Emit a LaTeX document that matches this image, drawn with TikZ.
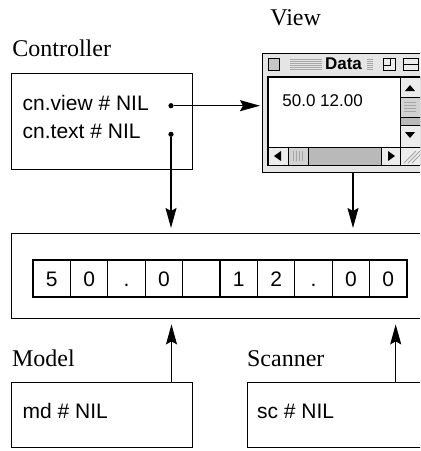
\documentclass[tikz,border=0pt]{standalone}
\usepackage{fontspec}
\setmainfont{Liberation Serif}
\setsansfont{Liberation Sans}
\usetikzlibrary{arrows.meta,positioning}

\tikzset{
  box/.style={draw, line width=.7pt, anchor=north west, inner sep=0pt},
  lbl/.style={anchor=base west, inner sep=0pt, font=\fontsize{12}{14}\selectfont},
  fld/.style={anchor=base west, inner sep=0pt, font=\sffamily\fontsize{10.5}{12}\selectfont},
  dot/.style={circle, fill, inner sep=0pt, minimum size=2.6pt},
  arr/.style={line width=.6pt, -{Stealth[length=10pt,width=5.5pt,inset=1.5pt]}, shorten >=2.5pt},
  btn/.style={draw, line width=.5pt, fill=gray!15},
  ridge/.style={gray!70, line width=.4pt},
}

\begin{document}
\begin{tikzpicture}[x=.5pt, y=-.5pt]
\clip (0,0) rectangle (420,451);
\node[lbl] (tctrl) at (12,56.7) {Controller};
\node[lbl] (tview) at (270,25) {View};
\node[lbl] (tmodel) at (11.7,366.7) {Model};
\node[lbl] (tscan) at (246.7,366.7) {Scanner};

\node[box, minimum width=90.5pt, minimum height=48pt] (ctrl) at (11,73) {};
\node[fld] (fview) at (22.3,110) {cn.view \# NIL};
\node[fld] (ftext) at (22.3,138.3) {cn.text \# NIL};
\node[dot] (dview) at (171,105.7) {};
\node[dot] (dtext) at (171,134.3) {};

\node[box, minimum width=90.5pt, minimum height=32.5pt] (model) at (11,382) {};
\node[fld] (fmodel) at (22.3,418.3) {md \# NIL};
\node[box, minimum width=91.5pt, minimum height=32.5pt] (scan) at (247,382) {};
\node[fld] (fscan) at (256.7,418.3) {sc \# NIL};

\node[box, minimum width=207pt, minimum height=42.5pt] (data) at (11,233) {};
\matrix[anchor=west, inner sep=0pt, column sep=-.6pt, nodes={draw, line width=.6pt,
    minimum width=18.7pt, minimum height=18.5pt, inner sep=0pt, text height=7.5pt, text depth=0pt,
    font=\sffamily\fontsize{10.5}{12}\selectfont}] (cells) at (32,278.5) {
  \node (c1) {5}; & \node (c2) {0}; & \node (c3) {.}; & \node (c4) {0}; & \node (c5) {}; &
  \node (c6) {1}; & \node (c7) {2}; & \node (c8) {.}; & \node (c9) {0}; & \node (c10) {0}; \\
};

\node[box, line width=.6pt, fill=gray!20, minimum width=81.5pt, minimum height=59.5pt] (view) at (262,53) {};
\draw[line width=.6pt, fill=white] (268,77) rectangle (421,165);
\draw[btn, fill=gray!45] (268,58) rectangle (279,70);
\foreach \y in {59,61,...,69} \draw[ridge] (290,\y) -- (322,\y) (367,\y) -- (373,\y);
\node[inner sep=0pt, font=\sffamily\bfseries\fontsize{8.5}{10}\selectfont] (ttl) at (343.5,64) {Data};
\draw[btn] (383,58) rectangle (395,70);
\draw[line width=.4pt] (383,58) rectangle (390,65);
\draw[btn] (403,58) rectangle (418,70);
\draw[line width=.4pt] (403,64) -- (418,64);
\node[anchor=base west, inner sep=0pt, font=\sffamily\fontsize{8.5}{10}\selectfont] (vtxt) at (282,106.7) {50.0 12.00};

\draw[btn] (400,77) rectangle (421,97);
\fill (405,91) -- (415,91) -- (410,85) -- cycle;
\draw[btn, fill=gray!35] (400,97) rectangle (421,117);
\foreach \y in {102,105,...,111} \draw[ridge] (404,\y) -- (416,\y);
\draw[line width=.5pt, fill=gray!55] (400,117) rectangle (421,125);
\draw[btn] (400,125) rectangle (421,147);
\fill (405,132) -- (415,132) -- (410,138) -- cycle;

\draw[btn] (268,147) rectangle (288,165);
\fill (274,156) -- (281,151) -- (281,161) -- cycle;
\draw[btn, fill=gray!35] (288,147) rectangle (308,165);
\foreach \x in {293,296,...,302} \draw[ridge] (\x,151) -- (\x,161);
\draw[line width=.5pt, fill=gray!55] (308,147) rectangle (381,165);
\draw[btn] (381,147) rectangle (400,165);
\fill (388,151) -- (395,156) -- (388,161) -- cycle;
\draw[btn] (400,147) rectangle (421,165);
\foreach \d in {0,4,8} \draw[ridge] (404+\d,163) -- (416+\d,151);

\coordinate (vtap) at (353,172);
\coordinate (mtap) at (171.5,382);
\coordinate (stap) at (395.7,382);
\draw[arr, shorten >=1pt] (dview) -- (dview -| view.west);
\draw[arr] (dtext) -- (dtext |- data.north);
\draw[arr] (vtap) -- (vtap |- data.north);
\foreach \s in {mtap,stap} \draw[arr] (\s) -- (\s |- data.south);

\end{tikzpicture}
\end{document}
